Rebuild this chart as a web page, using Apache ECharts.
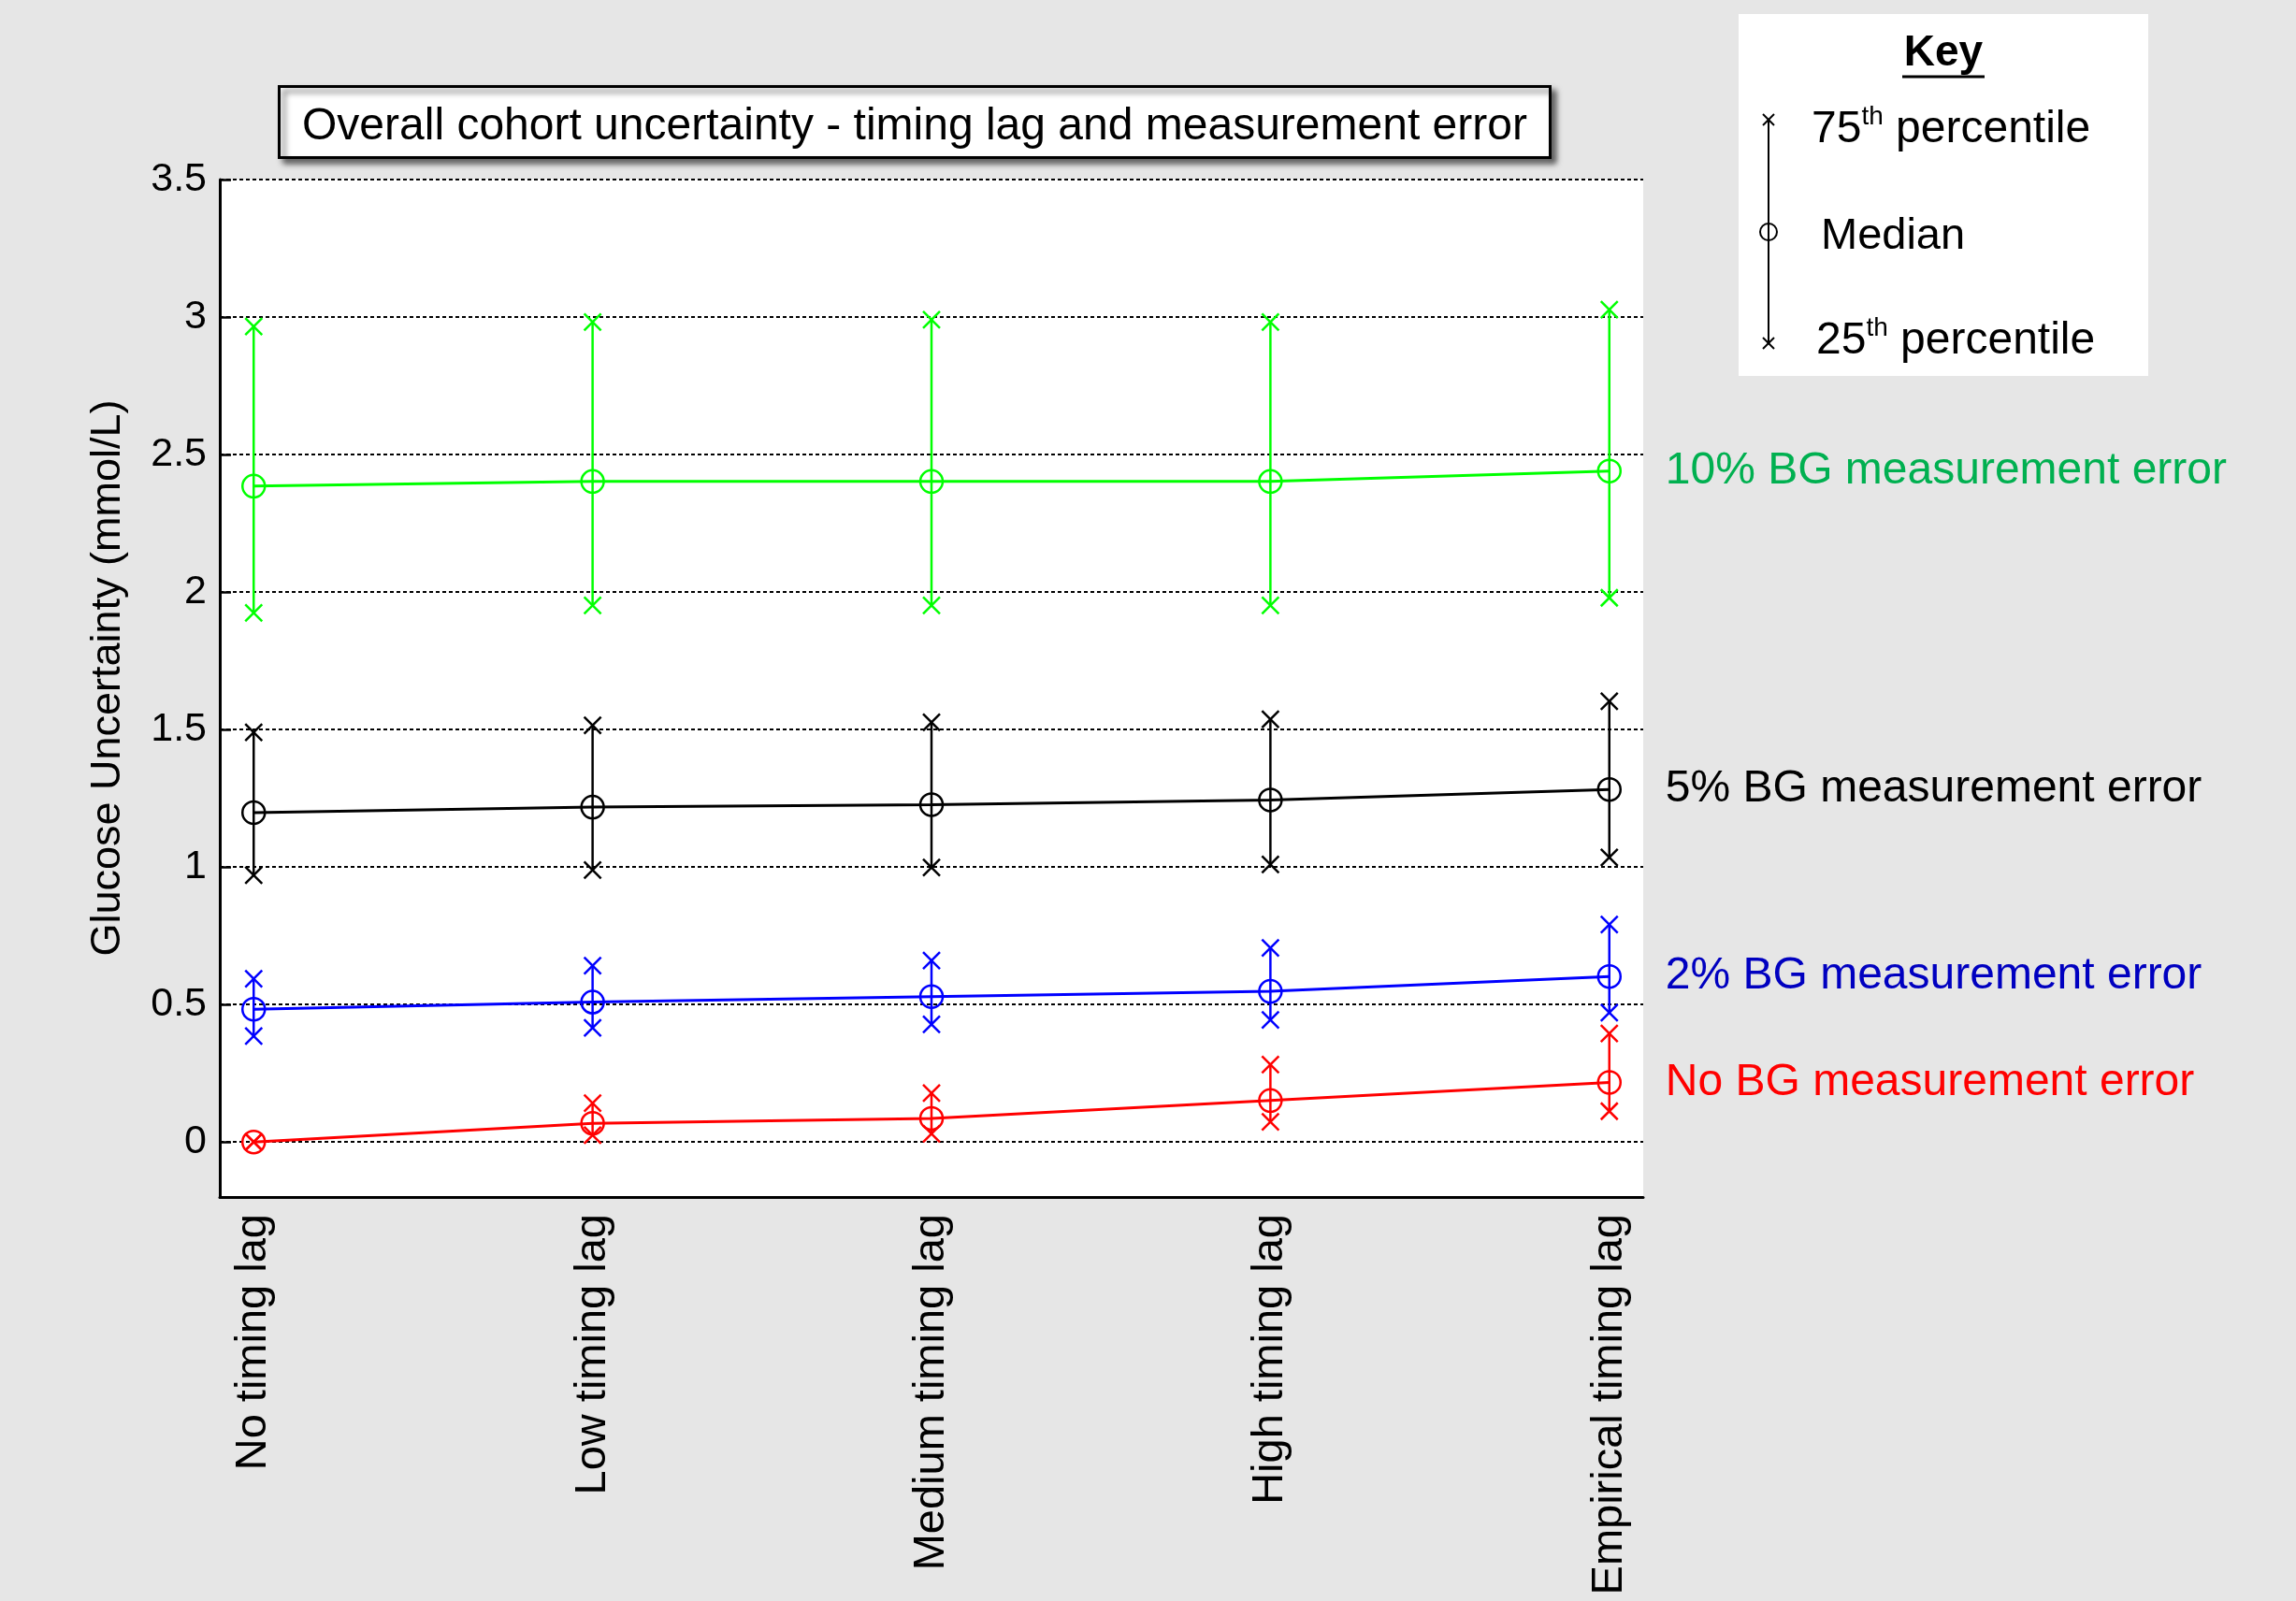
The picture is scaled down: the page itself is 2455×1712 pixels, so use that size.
<!DOCTYPE html>
<html>
<head>
<meta charset="utf-8">
<script src="https://cdn.jsdelivr.net/npm/echarts@6/dist/echarts.min.js"></script>
<style>
  html, body { margin: 0; padding: 0; background: #e6e6e6; }
  #chart { width: 2455px; height: 1712px; }
</style>
</head>
<body>
<div id="chart"></div>
<script>
// ---------- data ----------
const categories = ['No timing lag', 'Low timing lag', 'Medium timing lag', 'High timing lag', 'Empirical timing lag'];
const yTicks = [0, 0.5, 1, 1.5, 2, 2.5, 3, 3.5];

const seriesNames = ['No BG measurement error', '2% BG measurement error', '5% BG measurement error', '10% BG measurement error'];

const noErrMedian = [0.00, 0.068, 0.086, 0.151, 0.217];
const noErrQ25    = [0.00, 0.025, 0.030, 0.073, 0.112];
const noErrQ75    = [0.00, 0.141, 0.178, 0.282, 0.395];

const err2Median = [0.483, 0.509, 0.529, 0.548, 0.602];
const err2Q25    = [0.385, 0.415, 0.428, 0.444, 0.470];
const err2Q75    = [0.594, 0.641, 0.660, 0.706, 0.791];

const err5Median = [1.198, 1.218, 1.227, 1.244, 1.282];
const err5Q25    = [0.970, 0.989, 0.998, 1.009, 1.035];
const err5Q75    = [1.490, 1.515, 1.526, 1.537, 1.603];

const err10Median = [2.385, 2.402, 2.402, 2.402, 2.440];
const err10Q25    = [1.924, 1.951, 1.951, 1.951, 1.979];
const err10Q75    = [2.966, 2.982, 2.990, 2.982, 3.027];

// ---------- styling ----------
const FONT = "'Liberation Sans', Arial, sans-serif";
const lineColors  = ['#ff0000', '#0000ff', '#000000', '#00ff00'];
const labelColors = ['#ff0000', '#0000c0', '#000000', '#00b050'];

const groups = [
  { med: noErrMedian, q25: noErrQ25, q75: noErrQ75 },
  { med: err2Median,  q25: err2Q25,  q75: err2Q75 },
  { med: err5Median,  q25: err5Q25,  q75: err5Q75 },
  { med: err10Median, q25: err10Q25, q75: err10Q75 }
];

function errRender(color) {
  return function (params, api) {
    const x = api.value(0);
    const pLo = api.coord([x, api.value(1)]);
    const pHi = api.coord([x, api.value(2)]);
    const hx = 9, hy = 9;
    const style = { stroke: color, lineWidth: 2.5, fill: null };
    const cross = (p) => [
      { type: 'line', shape: { x1: p[0] - hx, y1: p[1] - hy, x2: p[0] + hx, y2: p[1] + hy }, style: style },
      { type: 'line', shape: { x1: p[0] + hx, y1: p[1] - hy, x2: p[0] - hx, y2: p[1] + hy }, style: style }
    ];
    return {
      type: 'group',
      children: [
        { type: 'line', shape: { x1: pLo[0], y1: pLo[1], x2: pHi[0], y2: pHi[1] }, style: style }
      ].concat(cross(pLo), cross(pHi))
    };
  };
}

const series = [];
groups.forEach((g, k) => {
  series.push({
    type: 'custom',
    name: seriesNames[k] + ' IQR',
    renderItem: errRender(lineColors[k]),
    encode: { x: 0, y: [1, 2] },
    data: g.q25.map((v, i) => [i + 1, v, g.q75[i]]),
    z: 2,
    silent: true
  });
});
groups.forEach((g, k) => {
  series.push({
    type: 'line',
    name: seriesNames[k],
    data: g.med.map((v, i) => [i + 1, v]),
    symbol: 'circle',
    symbolSize: 24,
    itemStyle: { color: 'rgba(0,0,0,0)', borderColor: lineColors[k], borderWidth: 2.5 },
    lineStyle: { color: lineColors[k], width: 3 },
    z: 3,
    endLabel: {
      show: true,
      formatter: seriesNames[k],
      color: labelColors[k],
      fontSize: 48,
      fontFamily: FONT,
      distance: 60
    }
  });
});

const chart = echarts.init(document.getElementById('chart'), null, { renderer: 'canvas' });

chart.setOption({
  backgroundColor: '#e6e6e6',
  animation: false,
  title: {
    text: 'Overall cohort uncertainty - timing lag and measurement error',
    left: 298,
    top: 92,
    padding: [20, 25, 9, 25],
    backgroundColor: '#ffffff',
    borderColor: '#000000',
    borderWidth: 3,
    shadowBlur: 6,
    shadowColor: 'rgba(0,0,0,0.55)',
    shadowOffsetX: 5,
    shadowOffsetY: 5,
    textStyle: { fontFamily: FONT, fontSize: 48, fontWeight: 'normal', color: '#000' }
  },
  grid: {
    left: 235, right: 698, top: 192, bottom: 432,
    show: true, backgroundColor: '#ffffff', borderWidth: 0
  },
  xAxis: {
    type: 'value',
    min: 0.9, max: 5.1,
    axisLine: { show: true, onZero: false, lineStyle: { color: '#000', width: 3 } },
    axisTick: { show: false },
    splitLine: { show: false },
    axisLabel: {
      customValues: [1, 2, 3, 4, 5],
      formatter: (v) => categories[Math.round(v) - 1],
      rotate: 90,
      margin: 18,
      fontSize: 47,
      fontFamily: FONT,
      color: '#000'
    }
  },
  yAxis: {
    type: 'value',
    min: -0.2, max: 3.5,
    name: 'Glucose Uncertainty (mmol/L)',
    nameLocation: 'middle',
    nameGap: 97,
    nameTextStyle: { fontSize: 45, fontFamily: FONT, color: '#000', padding: [0, 0, 0, 22] },
    axisLine: { show: true, lineStyle: { color: '#000', width: 3 } },
    axisTick: { show: true, inside: true, length: 12, customValues: yTicks, lineStyle: { color: '#000', width: 2.5 } },
    axisLabel: { customValues: yTicks, margin: 14, fontSize: 43, fontFamily: FONT, color: '#000' },
    splitLine: { show: true, lineStyle: { color: '#000', width: 2, type: [4, 3] } }
  },
  graphic: [
    { type: 'rect', shape: { x: 1859, y: 15, width: 438, height: 387 }, style: { fill: '#ffffff' }, z: 1 },
    { type: 'text', x: 2078, y: 57, style: { text: 'Key', font: "bold 46px 'Liberation Sans', Arial", fill: '#000', align: 'center', verticalAlign: 'middle' }, z: 2 },
    { type: 'line', shape: { x1: 2034, y1: 82, x2: 2122, y2: 82 }, style: { stroke: '#000', lineWidth: 3 }, z: 2 },
    { type: 'line', shape: { x1: 1891, y1: 128, x2: 1891, y2: 367 }, style: { stroke: '#000', lineWidth: 2 }, z: 2 },
    { type: 'line', shape: { x1: 1885, y1: 122, x2: 1897, y2: 134 }, style: { stroke: '#000', lineWidth: 2 }, z: 2 },
    { type: 'line', shape: { x1: 1897, y1: 122, x2: 1885, y2: 134 }, style: { stroke: '#000', lineWidth: 2 }, z: 2 },
    { type: 'line', shape: { x1: 1885, y1: 361, x2: 1897, y2: 373 }, style: { stroke: '#000', lineWidth: 2 }, z: 2 },
    { type: 'line', shape: { x1: 1897, y1: 361, x2: 1885, y2: 373 }, style: { stroke: '#000', lineWidth: 2 }, z: 2 },
    { type: 'circle', shape: { cx: 1891, cy: 248, r: 9 }, style: { stroke: '#000', lineWidth: 2, fill: null }, z: 2 },
    {
      type: 'text', x: 1937, y: 139, z: 2,
      style: {
        text: '{n|75}{s|th}{n| percentile}', verticalAlign: 'middle',
        rich: {
          n: { fontSize: 48, fontFamily: FONT, fill: '#000', color: '#000', lineHeight: 56 },
          s: { fontSize: 28, fontFamily: FONT, fill: '#000', color: '#000', verticalAlign: 'top', lineHeight: 56 }
        }
      }
    },
    { type: 'text', x: 1947, y: 253, z: 2, style: { text: 'Median', font: "47px 'Liberation Sans', Arial", fill: '#000', verticalAlign: 'middle' } },
    {
      type: 'text', x: 1942, y: 365, z: 2,
      style: {
        text: '{n|25}{s|th}{n| percentile}', verticalAlign: 'middle',
        rich: {
          n: { fontSize: 48, fontFamily: FONT, fill: '#000', color: '#000', lineHeight: 56 },
          s: { fontSize: 28, fontFamily: FONT, fill: '#000', color: '#000', verticalAlign: 'top', lineHeight: 56 }
        }
      }
    }
  ],
  series: series
});
</script>
</body>
</html>
